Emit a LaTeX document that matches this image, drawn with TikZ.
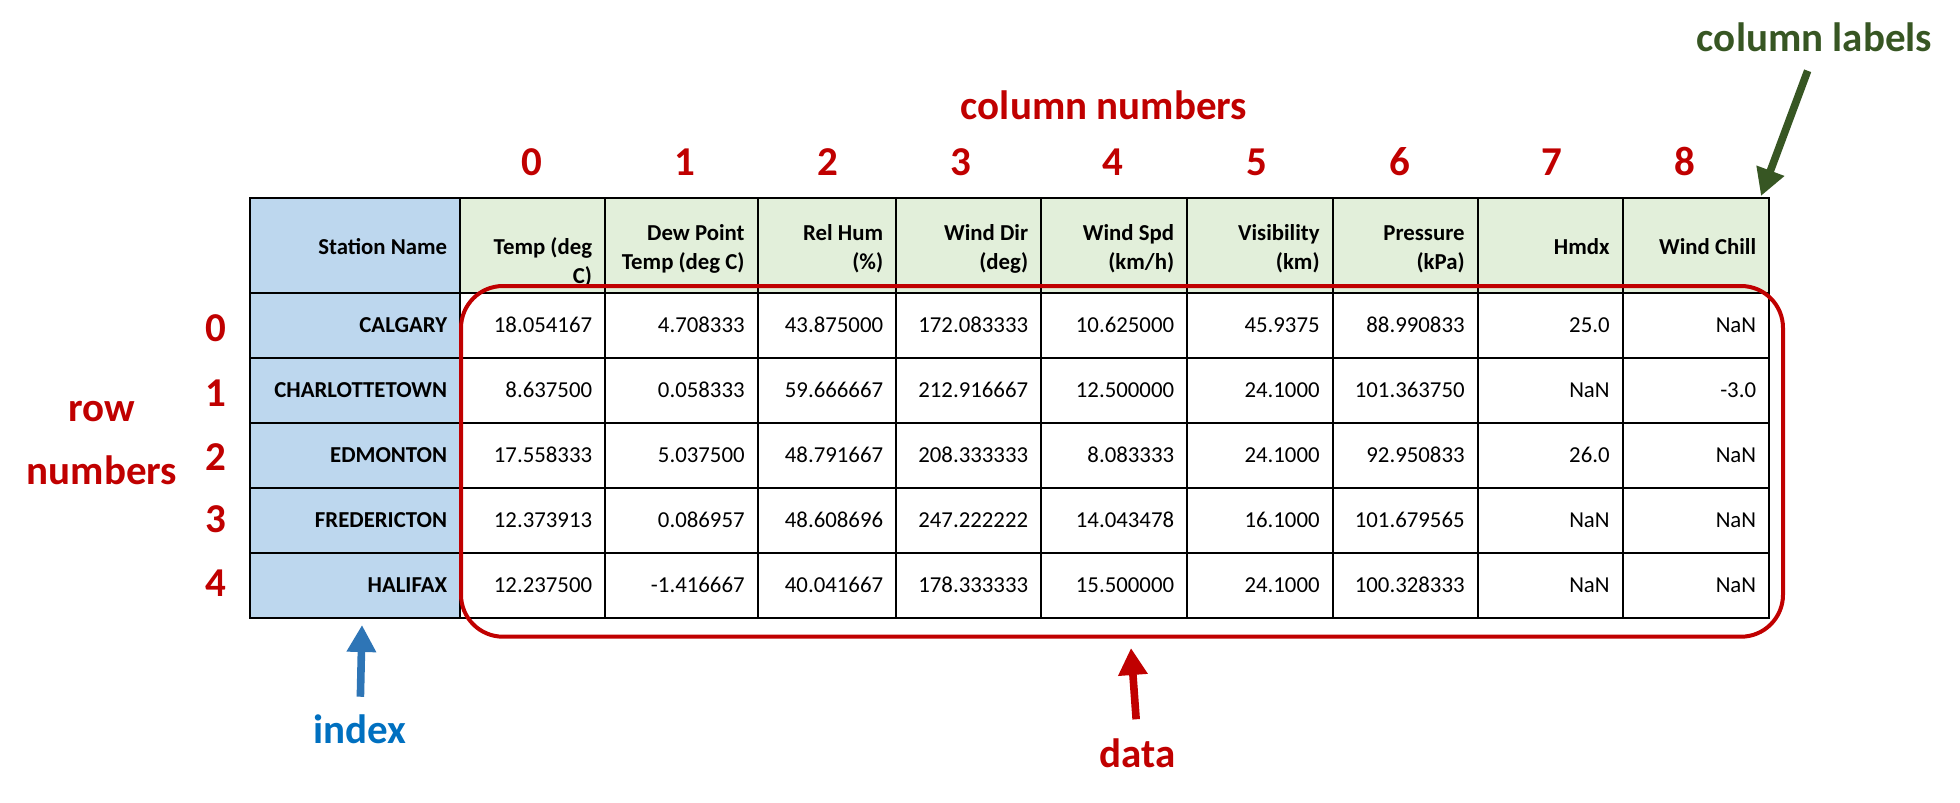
\documentclass[tikz,border=0pt]{standalone}
\usepackage{fontspec}
\setmainfont{Carlito}
\usetikzlibrary{positioning,arrows.meta}

\definecolor{hdrgreen}{HTML}{E2EFDA}
\definecolor{idxblue}{HTML}{BDD7EE}
\definecolor{annred}{HTML}{C00000}
\definecolor{anngreen}{HTML}{375623}
\definecolor{annblue}{HTML}{0070C0}
\definecolor{arrblue}{HTML}{2E75B6}

\tikzset{
  cell/.style={inner sep=0pt, anchor=base east, font=\fontsize{11.4}{14.5}\selectfont},
  head/.style={cell, align=right, font=\fontsize{11.4}{14.5}\selectfont\bfseries},
  stn/.style={cell, font=\fontsize{11.4}{14.5}\selectfont\bfseries},
  num/.style={inner sep=0pt, anchor=base, text=annred, font=\fontsize{20.5}{25}\selectfont\bfseries},
  ann/.style={inner sep=0pt, anchor=base, font=\fontsize{20.5}{25}\selectfont\bfseries},
  gridline/.style={line width=1pt, black},
  pointer/.style={-{Triangle[width=14pt,length=13.5pt]}, line width=3.8pt},
  databox/.style={draw=annred, line width=2pt, rounded corners=21pt, inner sep=0pt,
    minimum width=661pt, minimum height=175.35pt}
}

\begin{document}
\begin{tikzpicture}[x=0.5pt,y=-0.5pt]
\useasboundingbox (0,0) rectangle (1960,803);

% table
\fill[idxblue] (250,197.5) rectangle (460,617.5);
\fill[hdrgreen] (460,197.5) rectangle (1769,292.5);
\draw[gridline] (250,197.5) rectangle (1769,617.5);
\draw[gridline] (250,292.5) -- (1769,292.5) (250,357.5) -- (1769,357.5)
  (250,422.5) -- (1769,422.5) (250,487.5) -- (1769,487.5) (250,552.5) -- (1769,552.5);
\draw[gridline] (460,197.5) -- (460,617.5) (605,197.5) -- (605,617.5)
  (757.5,197.5) -- (757.5,617.5) (896,197.5) -- (896,617.5) (1041,197.5) -- (1041,617.5)
  (1187,197.5) -- (1187,617.5) (1332.5,197.5) -- (1332.5,617.5)
  (1477.5,197.5) -- (1477.5,617.5) (1622.5,197.5) -- (1622.5,617.5);

% column labels
\node[head] (H0) at (447.5,254) {Station Name};
\node[head] (H1) at (592.5,283) {Temp (deg\\C)};
\node[head] (H2) at (745,269.5) {Dew Point\\Temp (deg C)};
\node[head] (H3) at (883.5,269.5) {Rel Hum\\(\%)};
\node[head] (H4) at (1028.5,269.5) {Wind Dir\\(deg)};
\node[head] (H5) at (1174.5,269.5) {Wind Spd\\(km/h)};
\node[head] (H6) at (1320,269.5) {Visibility\\(km)};
\node[head] (H7) at (1465,269.5) {Pressure\\(kPa)};
\node[head] (H8) at (1610,254) {Hmdx};
\node[head] (H9) at (1756.5,254) {Wind Chill};

% row 0
\node[stn] (S0) at (447.5,332.5) {CALGARY};
\node[cell] (V00) at (592.5,332.5) {18.054167};
\node[cell] (V01) at (745,332.5) {4.708333};
\node[cell] (V02) at (883.5,332.5) {43.875000};
\node[cell] (V03) at (1028.5,332.5) {172.083333};
\node[cell] (V04) at (1174.5,332.5) {10.625000};
\node[cell] (V05) at (1320,332.5) {45.9375};
\node[cell] (V06) at (1465,332.5) {88.990833};
\node[cell] (V07) at (1610,332.5) {25.0};
\node[cell] (V08) at (1756.5,332.5) {NaN};

% row 1
\node[stn] (S1) at (447.5,397.5) {CHARLOTTETOWN};
\node[cell] (V10) at (592.5,397.5) {8.637500};
\node[cell] (V11) at (745,397.5) {0.058333};
\node[cell] (V12) at (883.5,397.5) {59.666667};
\node[cell] (V13) at (1028.5,397.5) {212.916667};
\node[cell] (V14) at (1174.5,397.5) {12.500000};
\node[cell] (V15) at (1320,397.5) {24.1000};
\node[cell] (V16) at (1465,397.5) {101.363750};
\node[cell] (V17) at (1610,397.5) {NaN};
\node[cell] (V18) at (1756.5,397.5) {-3.0};

% row 2
\node[stn] (S2) at (447.5,462.5) {EDMONTON};
\node[cell] (V20) at (592.5,462.5) {17.558333};
\node[cell] (V21) at (745,462.5) {5.037500};
\node[cell] (V22) at (883.5,462.5) {48.791667};
\node[cell] (V23) at (1028.5,462.5) {208.333333};
\node[cell] (V24) at (1174.5,462.5) {8.083333};
\node[cell] (V25) at (1320,462.5) {24.1000};
\node[cell] (V26) at (1465,462.5) {92.950833};
\node[cell] (V27) at (1610,462.5) {26.0};
\node[cell] (V28) at (1756.5,462.5) {NaN};

% row 3
\node[stn] (S3) at (447.5,527.5) {FREDERICTON};
\node[cell] (V30) at (592.5,527.5) {12.373913};
\node[cell] (V31) at (745,527.5) {0.086957};
\node[cell] (V32) at (883.5,527.5) {48.608696};
\node[cell] (V33) at (1028.5,527.5) {247.222222};
\node[cell] (V34) at (1174.5,527.5) {14.043478};
\node[cell] (V35) at (1320,527.5) {16.1000};
\node[cell] (V36) at (1465,527.5) {101.679565};
\node[cell] (V37) at (1610,527.5) {NaN};
\node[cell] (V38) at (1756.5,527.5) {NaN};

% row 4
\node[stn] (S4) at (447.5,592.5) {HALIFAX};
\node[cell] (V40) at (592.5,592.5) {12.237500};
\node[cell] (V41) at (745,592.5) {-1.416667};
\node[cell] (V42) at (883.5,592.5) {40.041667};
\node[cell] (V43) at (1028.5,592.5) {178.333333};
\node[cell] (V44) at (1174.5,592.5) {15.500000};
\node[cell] (V45) at (1320,592.5) {24.1000};
\node[cell] (V46) at (1465,592.5) {100.328333};
\node[cell] (V47) at (1610,592.5) {NaN};
\node[cell] (V48) at (1756.5,592.5) {NaN};

% column and row numbers
\node[num] (C0) at (532,175) {0};
\node[num] (C1) at (685,175) {1};
\node[num] (C2) at (828,175) {2};
\node[num] (C3) at (961,175) {3};
\node[num] (C4) at (1113,175) {4};
\node[num] (C5) at (1257,175) {5};
\node[num] (C6) at (1400,175) {6};
\node[num] (C7) at (1552,175) {7};
\node[num] (C8) at (1685,175) {8};
\node[num] (R0) at (216,341) {0};
\node[num] (R1) at (216,406) {1};
\node[num] (R2) at (216,470) {2};
\node[num] (R3) at (216,532) {3};
\node[num] (R4) at (216,596) {4};

% annotations
\node[ann, text=annred] (colnum) at (1104,119) {column numbers};
\node[ann, text=annred] (rowlbl) at (102,421.7) {row};
\node[ann, text=annred] (rowlbl2) at (102,484) {numbers};
\node[ann, text=anngreen] (collbl) at (1814.5,51.7) {column labels};
\node[ann, text=annblue] (idx) at (360,743.3) {index};
\node[ann, text=annred] (datalbl) at (1137.5,767) {data};
\node[databox] (databox) at (1122,461.35) {};

\coordinate (lbltip) at (1761,196);
\coordinate (idxtip) at (362,625);
\coordinate (datatip) at (1131,648);
\draw[pointer, anngreen, shorten <=9.8pt] (collbl.south) -- (lbltip);
\draw[pointer, arrblue, shorten <=8.7pt] (idx.north) -- (idxtip);
\draw[pointer, annred, shorten <=9.3pt] (datalbl.north) -- (datatip);
\end{tikzpicture}
\end{document}
